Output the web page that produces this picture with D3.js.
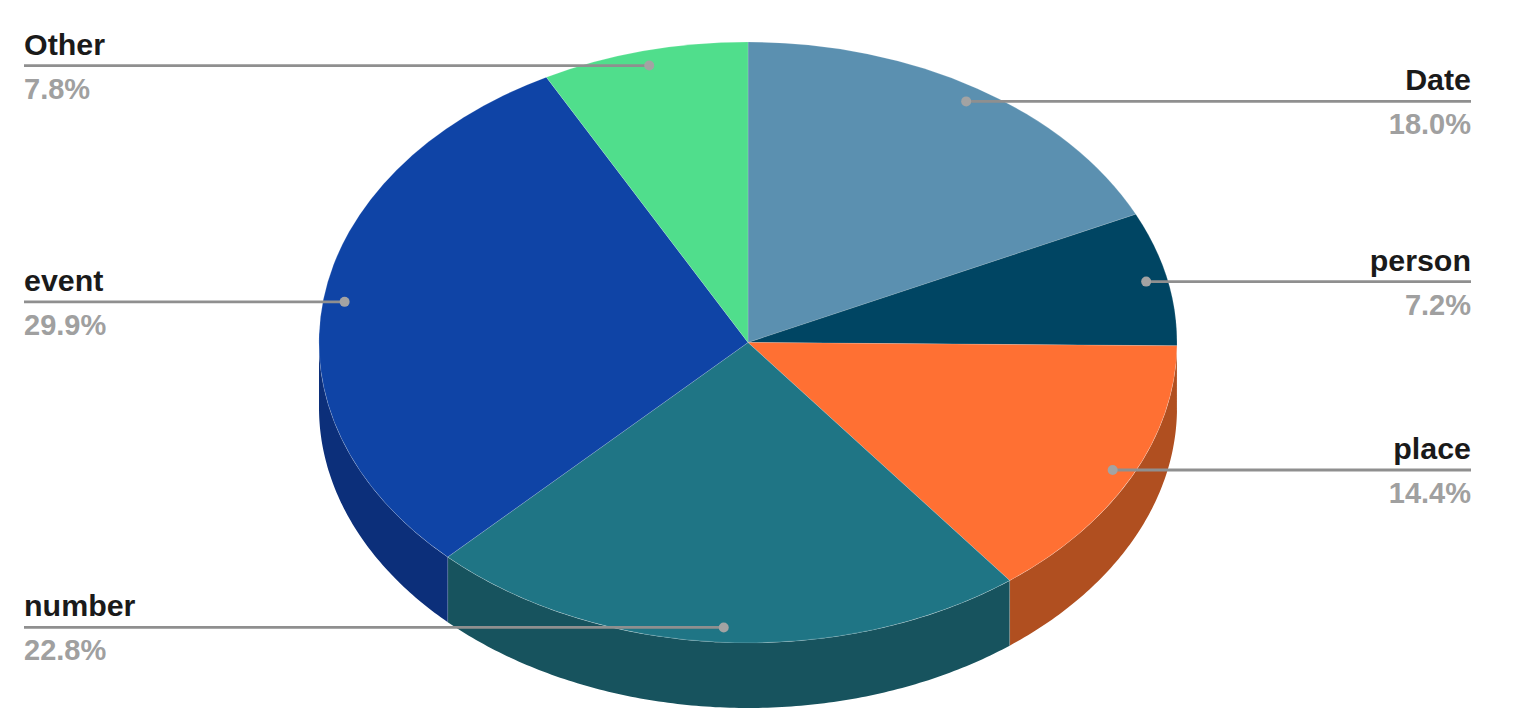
<!DOCTYPE html>
<html><head><meta charset="utf-8">
<script src="https://cdn.jsdelivr.net/npm/d3@7/dist/d3.min.js"></script>
<style>html,body{margin:0;background:#fff}svg{display:block}text{font-family:"Liberation Sans",Arial,sans-serif;font-weight:700;font-size:29px}text.name{font-size:30.4px}</style>
</head><body><svg id="c" width="1522" height="722"></svg>
<script>
const categories = ["Date","person","place","number","event","Other"];
const shares = [18.0,7.2,14.4,22.8,29.9,7.8];
const topColors = ["#5b90b0","#004563","#ff7033","#1f7585","#0f44a6","#50de8c"];
const sideColors = ["#3f6479","#003044","#b04f20","#17535e","#0c2f7a","#38996a"];

const svg = d3.select("#c");
const cx = 748, cy = 342.5, rx = 429, ry = 300.5, depth = 65;
const X = d3.scaleLinear().domain([-1,1]).range([cx-rx,cx+rx]);
const Y = d3.scaleLinear().domain([-1,1]).range([cy-ry,cy+ry]);
const px = (a,r=1)=>[X(r*Math.sin(a)),Y(-r*Math.cos(a))];

const arcs = d3.pie().sort(null).value(d=>d)(shares);
const line = d3.line();
const seam = "rgba(255,255,255,0.15)";

// side walls: only the part of each slice on the front half of the ellipse
arcs.forEach((d,i)=>{
  const a0 = Math.max(d.startAngle,Math.PI/2), a1 = Math.min(d.endAngle,3*Math.PI/2);
  if(a1<=a0) return;
  const n = Math.ceil((a1-a0)*90);
  const rim = d3.range(n+1).map(k=>px(a0+(a1-a0)*k/n));
  const pts = rim.concat(rim.slice().reverse().map(p=>[p[0],p[1]+depth]));
  svg.append("path").attr("d",line(pts)+"Z").attr("fill",sideColors[i]);
});
arcs.forEach(d=>{
  if(d.endAngle>Math.PI/2 && d.endAngle<3*Math.PI/2){
    const p = px(d.endAngle);
    svg.append("path").attr("d",line([p,[p[0],p[1]+depth]])).attr("stroke",seam).attr("stroke-width",1);
  }
});

// top face
const arc = d3.arc().innerRadius(0).outerRadius(1);
const face = svg.append("g").attr("transform",`translate(${cx},${cy}) scale(${rx},${ry})`);
face.selectAll("path").data(arcs).join("path")
  .attr("d",arc).attr("fill",(d,i)=>topColors[i])
  .attr("stroke",seam).attr("stroke-width",1).attr("vector-effect","non-scaling-stroke");

// callouts
const leftX = 24, rightX = 1471;
arcs.forEach((d,i)=>{
  const mid = (d.startAngle+d.endAngle)/2;
  const [dx,dy] = px(mid,0.95);
  const right = Math.sin(mid)>0;
  const ex = right?rightX:leftX;
  const anchor = right?"end":"start";
  svg.append("line").attr("x1",dx).attr("x2",ex).attr("y1",dy).attr("y2",dy)
    .attr("stroke","#8f8f8f").attr("stroke-width",2.8);
  svg.append("circle").attr("cx",dx).attr("cy",dy).attr("r",5).attr("fill","#a3a3a3");
  svg.append("text").attr("class","name").attr("x",ex).attr("y",dy-11).attr("text-anchor",anchor).attr("fill","#1a1a1a").text(categories[i]);
  svg.append("text").attr("x",ex).attr("y",dy+33).attr("text-anchor",anchor).attr("fill","#a0a0a0").text(shares[i].toFixed(1)+"%");
});
</script></body></html>
